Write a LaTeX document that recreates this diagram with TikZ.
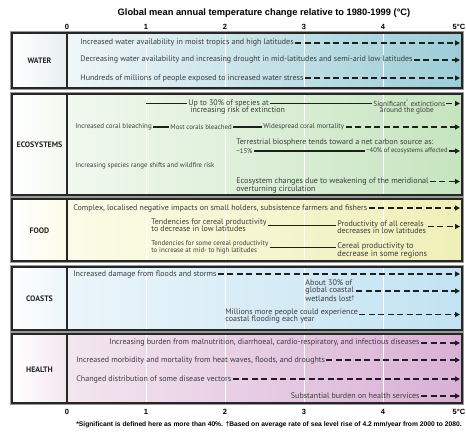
\documentclass[tikz,border=0pt]{standalone}
\usepackage{fontspec}
\setmainfont{PT Sans}
\newfontfamily\headfont{Liberation Sans}
\usetikzlibrary{arrows.meta}
\definecolor{txtc}{HTML}{3C3C3C}
\definecolor{waterR}{HTML}{9CCDD7}
\definecolor{waterL}{HTML}{EEF6F8}
\definecolor{ecoR}{HTML}{C6E4BF}
\definecolor{ecoL}{HTML}{F1F8EE}
\definecolor{foodR}{HTML}{EFEFB8}
\definecolor{foodL}{HTML}{FBFBE8}
\definecolor{coastR}{HTML}{C2E2F2}
\definecolor{coastL}{HTML}{EBF5FA}
\definecolor{healthR}{HTML}{D9B0D5}
\definecolor{healthL}{HTML}{F3E6EF}
\newcommand\drawpanelbg[5]{%
  \shade[left color=white, right color=#5] (12,#1) rectangle (67,#2);
  \shade[left color=#3, right color=#4] (67,#1) rectangle (462,#2);
}
\newcommand\drawpanelframe[2]{%
  \draw[black!40, line width=0.5pt] (10.3,{#1-1.7}) rectangle (463.7,{#2+1.7});
  \draw[pframe] (12,#1) rectangle (462,#2);
  \draw[pframe] (67,#1) -- (67,#2);
}
\tikzset{
  txt/.style={font=\fontsize{8}{7.4}\selectfont, text=txtc, inner sep=1.2pt, align=left},
  fsz/.style={font=\fontsize{#1}{7.4}\selectfont},
  lab/.style={font=\bfseries\fontsize{7.9}{9}\selectfont, text=black!85, inner sep=1pt},
  axl/.style={font=\headfont\bfseries\fontsize{7.5}{8}\selectfont, inner sep=0.5pt},
  dar/.style={draw=black!88, line width=1.4pt, dash pattern=on 6pt off 3.5pt, -{Triangle[length=5pt,width=5pt]}},
  sol/.style={draw=black!88, line width=1.4pt},
  sar/.style={sol, -{Triangle[length=5pt,width=5pt]}},
  pframe/.style={draw=black!85, line width=1.3pt},
  gridln/.style={draw=white, line width=0.9pt},
}
\begin{document}
\begin{tikzpicture}[x=1pt,y=-1pt]
\fill[white] (0,0) rectangle (466,432);
\useasboundingbox (0,0) rectangle (466,432);

% panel backgrounds
\drawpanelbg{33}{88}{waterL}{waterR}{black!3!waterL}
\drawpanelbg{94}{195}{ecoL}{ecoR}{ecoL}
\drawpanelbg{199}{261}{foodL}{foodR}{foodL}
\drawpanelbg{267}{330}{coastL}{coastR}{coastL}
\drawpanelbg{334}{403}{healthL}{healthR}{healthL}

% grid lines
\foreach \g in {146,225,304,383} {\draw[gridln] (\g,30) -- (\g,407);}

% frames
\drawpanelframe{33}{88}
\drawpanelframe{94}{195}
\drawpanelframe{199}{261}
\drawpanelframe{267}{330}
\drawpanelframe{334}{403}

% title and axes
\node[font=\headfont\bfseries\fontsize{9.3}{11}\selectfont, inner sep=0pt] (title) at (264,13) {Global mean annual temperature change relative to 1980-1999 (°C)};
\node[axl] (t0) at (67,26.5) {0};
\node[axl] (t1) at (146,26.5) {1};
\node[axl] (t2) at (225,26.5) {2};
\node[axl] (t3) at (304,26.5) {3};
\node[axl] (t4) at (383,26.5) {4};
\node[axl, anchor=east, inner sep=0pt] (t5) at (465.5,26.5) {5°C};
\node[axl] (b0) at (67,412) {0};
\node[axl] (b1) at (146,412) {1};
\node[axl] (b2) at (225,412) {2};
\node[axl] (b3) at (304,412) {3};
\node[axl] (b4) at (383,412) {4};
\node[axl, anchor=east, inner sep=0pt] (b5) at (465.5,412) {5°C};
\node[font=\headfont\bfseries\fontsize{6.7}{8}\selectfont, inner sep=0pt] (foot) at (269,425) {*Significant is defined here as more than 40\%. \textdagger Based on average rate of sea level rise of 4.2 mm/year from 2000 to 2080.};

% labels
\node[lab] (lwater) at (39.5,60.5) {WATER};
\node[lab] (leco) at (39.5,145) {ECOSYSTEMS};
\node[lab] (lfood) at (39.5,231) {FOOD};
\node[lab] (lcoast) at (39.5,298.5) {COASTS};
\node[lab] (lhealth) at (39.5,370) {HEALTH};

% WATER
\node[txt, anchor=west] (w1) at (79,43) {Increased water availability in moist tropics and high latitudes};
\node[txt, anchor=west] (w2) at (79,60) {Decreasing water availability and increasing drought in mid-latitudes and semi-arid low latitudes};
\node[txt, anchor=west] (w3) at (79,78) {Hundreds of millions of people exposed to increased water stress};
\coordinate (w1e) at (460,43);
\coordinate (w2e) at (460,60);
\coordinate (w3e) at (460,78);
\draw[dar] (w1.east) -- (w1e);
\draw[dar] (w2.east) -- (w2e);
\draw[dar] (w3.east) -- (w3e);

% ECOSYSTEMS
\coordinate (e1s) at (146,103.5);
\node[txt, anchor=west] (e1a) at (187,103.5) {Up to 30\% of species at};
\node[txt, anchor=west] (e1b) at (189,110.5) {increasing risk of extinction};
\node[txt, fsz=7.3, anchor=west] (e1c) at (372,103.5) {Significant\textsuperscript{*} extinctions};
\node[txt, fsz=7.3] (e1d) at (407,110.5) {around the globe};
\coordinate (e1e) at (460,103.5);
\draw[sol] (e1s) -- (e1a.west);
\draw[sol] (e1a.east) -- (e1c.west);
\draw[dar] (e1c.east) -- (e1e);

\node[txt, fsz=7.0, anchor=west] (e2a) at (74,127) {Increased coral bleaching};
\node[txt, fsz=6.8, anchor=west] (e2b) at (169,127) {Most corals bleached};
\node[txt, fsz=7.0, anchor=west] (e2c) at (262,127) {Widespread coral mortality};
\coordinate (e2e) at (460,127);
\draw[sol] (e2a.east) -- (e2b.west);
\draw[sol] (e2b.east) -- (e2c.west);
\draw[dar] (e2c.east) -- (e2e);

\node[txt, fsz=8.0, anchor=west] (e3a) at (235,142) {Terrestrial biosphere tends toward a net carbon source as:};
\node[txt, fsz=6.8, anchor=west] (e3b) at (235,151) {\textasciitilde 15\%};
\node[txt, fsz=6.6, anchor=west] (e3c) at (365,151) {\textasciitilde 40\% of ecosystems affected};
\coordinate (e3e) at (460,151);
\draw[sol] (e3b.east) -- (e3c.west);
\draw[sar] (e3c.east) -- (e3e);

\node[txt, fsz=6.9, anchor=west] (e4) at (74,166) {Increasing species range shifts and wildfire risk};

\node[txt, fsz=8.1, anchor=west] (e5a) at (235,181.5) {Ecosystem changes due to weakening of the meridional};
\node[txt, fsz=8.1, anchor=west] (e5b) at (235,189) {overturning circulation};
\coordinate (e5e) at (460,181.5);
\draw[dar] (e5a.east) -- (e5e);

% FOOD
\node[txt, anchor=west] (f1) at (72,208) {Complex, localised negative impacts on small holders, subsistence farmers and fishers};
\coordinate (f1e) at (460,208);
\draw[dar] (f1.east) -- (f1e);

\node[txt, anchor=west] (f2a) at (150,225.5) {Tendencies for cereal productivity\\to decrease in low latitudes};
\node[txt, fsz=8.0, anchor=west] (f2b) at (336,227.5) {Productivity of all cereals\\decreases in low latitudes};
\coordinate (f2e) at (460,226.5);
\draw[sol] (f2a.east) -- (f2a.east -| f2b.west);
\draw[dar] (f2b.east |- f2e) -- (f2e);

\node[txt, fsz=6.9, anchor=west] (f3a) at (150,247.5) {Tendencies for some cereal productivity\\to increase at mid- to high latitudes};
\node[txt, anchor=west, font=\fontsize{8.3}{8.6}\selectfont] (f3b) at (336,250.5) {Cereal productivity to\\decrease in some regions};
\draw[sol] (f3a.east) -- (f3a.east -| f3b.west);

% COASTS
\node[txt, anchor=west] (c1) at (72,274) {Increased damage from floods and storms};
\coordinate (c1e) at (460,274);
\draw[dar] (c1.east) -- (c1e);

\node[txt, anchor=west, font=\fontsize{8.1}{6.7}\selectfont] (c2) at (304,291) {About 30\% of\\global coastal\\wetlands lost\textsuperscript{\textdagger}};
\coordinate (c2e) at (460,291);
\draw[dar] (c2.east) -- (c2e);

\node[txt, anchor=west, font=\fontsize{8}{7.8}\selectfont] (c3) at (224,316) {Millions more people could experience\\coastal flooding each year};
\coordinate (c3e) at (460,314.5);
\draw[dar] (c3.east |- c3e) -- (c3e);

% HEALTH
\node[txt, anchor=east] (h1) at (421,343) {Increasing burden from malnutrition, diarrhoeal, cardio-respiratory, and infectious diseases};
\node[txt, anchor=west] (h2) at (75,360) {Increased morbidity and mortality from heat waves, floods, and droughts};
\node[txt, anchor=west] (h3) at (75,379) {Changed distribution of some disease vectors};
\node[txt, anchor=east] (h4) at (421,396) {Substantial burden on health services};
\coordinate (h1e) at (460,343);
\coordinate (h2e) at (460,360);
\coordinate (h3e) at (460,379);
\coordinate (h4e) at (460,396);
\draw[dar] (h1.east) -- (h1e);
\draw[dar] (h2.east) -- (h2e);
\draw[dar] (h3.east) -- (h3e);
\draw[dar] (h4.east) -- (h4e);
\end{tikzpicture}
\end{document}
